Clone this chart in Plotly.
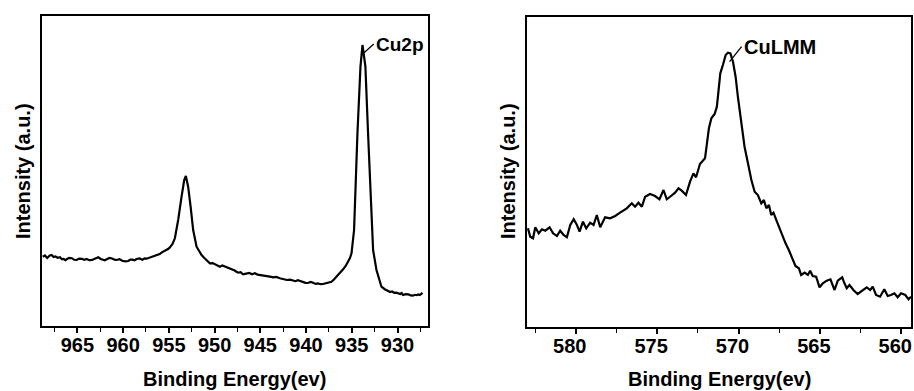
import plotly.graph_objects as go

# ---- Cu2p spectrum (left panel) ----
cu2p_be = [968.79, 968.55, 968.3, 968.05, 967.81, 967.6, 967.4, 967.15, 966.9, 966.7, 966.5, 966.3,
           966.17, 965.9, 965.6, 965.35, 965.08, 964.8, 964.5, 964.25, 963.98, 963.7, 963.4, 963.05,
           962.72, 962.45, 962.2, 962.0, 961.8, 961.5, 961.2, 960.95, 960.71, 960.4, 960.1, 959.75,
           959.44, 959.2, 959.0, 958.75, 958.52, 958.2, 957.9, 957.65, 957.43, 957.2, 957.0, 956.75,
           956.52, 956.25, 956.0, 955.8, 955.62, 955.4, 955.2, 955.05, 954.88, 954.6, 954.34, 953.98,
           953.61, 953.32, 953.14, 952.89, 952.62, 952.34, 951.97, 951.7, 951.42, 951.15, 950.9,
           950.7, 950.51, 950.2, 949.9, 949.65, 949.42, 949.15, 948.9, 948.6, 948.33, 948.05, 947.8,
           947.6, 947.42, 947.15, 946.88, 946.55, 946.2, 945.9, 945.6, 945.3, 945.0, 944.65, 944.32,
           943.95, 943.6, 943.25, 942.87, 942.5, 942.1, 941.75, 941.41, 941.15, 940.9, 940.6,
           940.32, 940.05, 939.8, 939.5, 939.23, 938.95, 938.7, 938.4, 938.14, 937.85, 937.6, 937.4,
           937.22, 936.95, 936.67, 936.3, 935.95, 935.65, 935.41, 935.2, 935.03, 934.86, 934.75,
           934.38, 934.05, 933.83, 933.51, 933.22, 932.82, 932.67, 932.3, 932.0, 931.76, 931.4,
           931.04, 930.8, 930.6, 930.35, 930.12, 929.9, 929.7, 929.55, 929.4, 929.1, 928.8, 928.55,
           928.31, 928.1, 927.9, 927.75, 927.57, 927.4, 927.28]
cu2p_int = [69.3, 70.5, 68.0, 70.2, 71.0, 69.0, 69.5, 68.2, 68.7, 66.8, 67.0, 65.9,
            66.7, 68.1, 67.8, 66.2, 66.0, 67.4, 67.2, 66.1, 67.0, 65.8, 66.0, 67.2,
            68.7, 67.0, 66.5, 65.6, 66.7, 68.0, 67.5, 66.3, 66.0, 66.9, 65.2, 64.6,
            65.0, 66.4, 66.3, 65.7, 67.0, 67.6, 66.2, 67.5, 67.3, 68.1, 68.6, 69.2,
            70.0, 71.3, 72.0, 73.4, 74.3, 75.2, 75.8, 77.2, 78.7, 82.0, 87.7, 106.0,
            129.3, 146.0, 150.0, 139.3, 119.3, 96.0, 79.3, 74.5, 71.0, 68.2, 66.0,
            64.0, 62.7, 62.9, 61.5, 60.2, 59.3, 60.6, 59.8, 58.3, 57.7, 56.4, 55.5,
            54.2, 53.3, 53.9, 51.7, 52.4, 53.0, 51.8, 52.7, 51.4, 51.0, 50.9, 50.0,
            49.3, 48.6, 49.0, 47.7, 47.2, 46.0, 46.4, 45.3, 44.8, 45.8, 44.6,
            44.3, 43.2, 43.0, 44.1, 43.3, 42.1, 42.6, 41.8, 42.0, 42.8, 43.0, 43.4,
            44.3, 46.5, 49.3, 52.5, 56.7, 60.3, 64.3, 68.0, 72.7, 86.0, 96.0,
            192.7, 259.3, 281.0, 259.3, 192.7, 94.0, 76.0, 56.0, 46.0, 39.3, 36.8,
            35.3, 34.0, 34.5, 33.2, 33.3, 32.4, 32.0, 32.9, 31.0, 31.8, 31.6, 30.6,
            30.3, 31.2, 30.8, 31.5, 31.0, 32.0, 33.3]

# ---- CuLMM spectrum (right panel) ----
lmm_be = [582.94, 582.8, 582.63, 582.49, 582.28, 582.08, 581.88, 581.61, 581.4, 581.16, 580.96,
          580.75, 580.55, 580.34, 580.13, 579.93, 579.77, 579.56, 579.36, 579.12, 578.91, 578.71,
          578.5, 578.2, 577.89, 577.58, 577.28, 576.87, 576.56, 576.36, 576.15, 575.94, 575.74,
          575.44, 575.13, 574.86, 574.61, 574.41, 574.15, 573.9, 573.69, 573.49, 573.23, 572.98,
          572.77, 572.61, 572.37, 572.06, 571.94, 571.82, 571.67, 571.47, 571.33, 571.2, 571.12,
          570.96, 570.79, 570.65, 570.5, 570.34, 570.18, 570.04, 569.83, 569.63, 569.42, 569.21,
          569.01, 568.81, 568.6, 568.44, 568.29, 568.13, 567.99, 567.85, 567.64, 567.37, 567.11,
          566.91, 566.7, 566.5, 566.29, 566.15, 565.94, 565.74, 565.6, 565.44, 565.23, 565.02,
          564.82, 564.58, 564.35, 564.1, 563.9, 563.63, 563.49, 563.35, 563.18, 562.94, 562.68,
          562.41, 562.12, 561.91, 561.75, 561.55, 561.3, 561.04, 560.83, 560.63, 560.42, 560.22,
          560.01, 559.75, 559.55, 559.4]
lmm_int = [98.4, 90.0, 88.4, 99.4, 93.4, 97.4, 96.0, 99.4, 93.4, 90.7, 96.0,
           91.7, 89.4, 101.7, 107.4, 101.7, 95.0, 105.0, 98.4, 104.0, 101.7, 111.7,
           99.4, 109.4, 108.4, 110.7, 114.0, 118.4, 123.4, 120.0, 124.0, 120.0, 130.0,
           132.7, 130.7, 127.4, 136.7, 127.4, 130.7, 134.0, 138.4, 136.0, 131.7, 145.0,
           153.4, 149.4, 162.7, 168.4, 183.4, 198.4, 208.4, 212.7, 220.0, 240.0, 253.4,
           261.7, 271.7, 274.0, 273.4, 265.0, 250.0, 230.0, 203.4, 180.0, 163.4, 146.7,
           135.0, 131.7, 123.4, 126.7, 118.4, 121.7, 111.7, 114.0, 105.0, 93.4, 83.4,
           76.7, 68.4, 60.7, 58.4, 51.7, 54.0, 51.7, 56.0, 50.7, 50.0, 39.4,
           43.4, 46.0, 47.4, 36.7, 46.0, 49.4, 43.4, 38.4, 41.7, 36.7, 32.7,
           36.0, 39.4, 36.7, 40.0, 31.7, 30.0, 37.4, 30.7, 31.7, 33.4, 29.4,
           33.4, 31.7, 27.4, 30.0]

x_title = "Binding Energy(ev)"
y_title = "Intensity (a.u.)"
left_ticks = [965, 960, 955, 950, 945, 940, 935, 930]
right_ticks = [580, 575, 570, 565, 560]

FONT = "Liberation Sans, Arial, sans-serif"

fig = go.Figure()
fig.add_trace(go.Scatter(x=cu2p_be, y=cu2p_int, mode="lines",
                         line=dict(color="black", width=2.2), xaxis="x", yaxis="y",
                         showlegend=False, hoverinfo="skip"))
fig.add_trace(go.Scatter(x=lmm_be, y=lmm_int, mode="lines",
                         line=dict(color="black", width=2.2), xaxis="x2", yaxis="y2",
                         showlegend=False, hoverinfo="skip"))

W, H = 914, 391

def xax(domain, rng, ticks, shift):
    return dict(domain=domain, range=rng, tickvals=ticks, ticktext=[str(t) for t in ticks],
                showline=True, linecolor="black", linewidth=1.8, mirror=True,
                ticks="outside", ticklen=5, tickwidth=1.5, tickcolor="black",
                minor=dict(dtick=2.5, ticks="outside", ticklen=4, tickwidth=1.2, tickcolor="black"),
                showgrid=False, zeroline=False, ticklabeloverflow="allow",
                ticklabelstandoff=-5, ticklabelshift=shift,
                tickfont=dict(family=FONT, size=20, color="black", weight="bold"))

def yax(domain, rng, anchor):
    return dict(domain=domain, range=rng, anchor=anchor,
                showline=True, linecolor="black", linewidth=1.8, mirror=True,
                ticks="", showticklabels=False, showgrid=False, zeroline=False)

fig.update_layout(
    width=W, height=H, margin=dict(l=0, r=0, t=0, b=0),
    paper_bgcolor="white", plot_bgcolor="white",
    xaxis=dict(**xax([41.7 / W, 427.7 / W], [968.9, 926.7], left_ticks, 0), anchor="y"),
    yaxis=yax([1 - 326 / H, 1 - 15.7 / H], [0, 310.3], "x"),
    xaxis2=dict(**xax([527 / W, 911 / W], [583.0, 559.4], right_ticks, 6), anchor="y2"),
    yaxis2=yax([1 - 326.7 / H, 1 - 17.3 / H], [0, 309.4], "x2"),
)

tfont = dict(family=FONT, size=20, color="black", weight="bold")
ann = [
    dict(text=x_title, xref="paper", yref="paper", x=234.5 / W, y=1 - 379 / H,
         showarrow=False, font=tfont, xanchor="center", yanchor="middle"),
    dict(text=x_title, xref="paper", yref="paper", x=719 / W, y=1 - 379 / H,
         showarrow=False, font=tfont, xanchor="center", yanchor="middle"),
    dict(text=y_title, xref="paper", yref="paper", x=23 / W, y=1 - 171 / H,
         showarrow=False, font=tfont, textangle=-90, xanchor="center", yanchor="middle"),
    dict(text=y_title, xref="paper", yref="paper", x=508 / W, y=1 - 171 / H,
         showarrow=False, font=tfont, textangle=-90, xanchor="center", yanchor="middle"),
    dict(text="Cu2p", xref="x", yref="y", x=933.69, y=273, ax=10, ay=-9,
         showarrow=True, arrowhead=0, arrowwidth=1.3, arrowcolor="black",
         xanchor="left", yanchor="middle",
         font=dict(family=FONT, size=19, color="black", weight="bold")),
    dict(text="CuLMM", xref="x2", yref="y2", x=570.55, y=265, ax=12, ay=-15,
         showarrow=True, arrowhead=0, arrowwidth=1.3, arrowcolor="black",
         xanchor="left", yanchor="middle",
         font=dict(family=FONT, size=20, color="black", weight="bold")),
]
fig.update_layout(annotations=ann)

fig.write_html("out.html")
